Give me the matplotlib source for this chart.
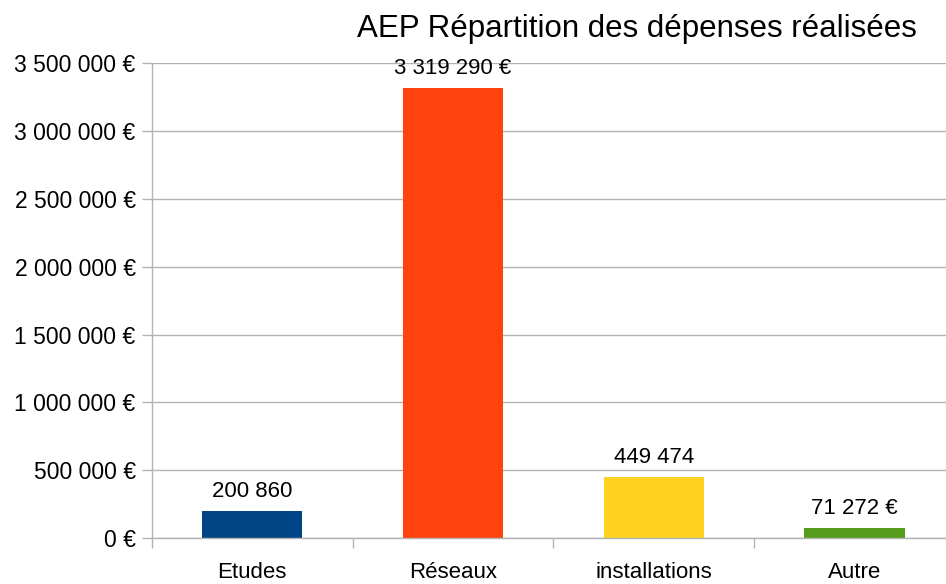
import matplotlib.pyplot as plt
from matplotlib.ticker import FixedLocator

plt.rcParams['font.family'] = ['Liberation Sans', 'DejaVu Sans']

# --- DATA ---
categories = ['Etudes', 'Réseaux', 'installations', 'Autre']
values = [200860, 3319290, 449474, 71272]
value_labels = ['200 860', '3 319 290 €', '449 474', '71 272 €']
colors = ['#004586', '#ff420e', '#ffd320', '#579d1c']
yticks = [0, 500000, 1000000, 1500000, 2000000, 2500000, 3000000, 3500000]
ytick_labels = ['0 €', '500 000 €', '1 000 000 €', '1 500 000 €',
                '2 000 000 €', '2 500 000 €', '3 000 000 €', '3 500 000 €']
title = 'AEP Répartition des dépenses réalisées'

W, H = 946, 584
fig = plt.figure(figsize=(W / 100, H / 100), dpi=100)
left, right, top, bottom = 151.7, 955.0, 63.3, 538.0
ax = fig.add_axes([left / W, (H - bottom) / H, (right - left) / W, (bottom - top) / H])

x = list(range(len(categories)))
ax.bar(x, values, width=0.5, color=colors, zorder=2)
for xi, v, lab in zip(x, values, value_labels):
    ax.annotate(lab, (xi, v), xytext=(0, 10), textcoords='offset points',
                ha='center', va='baseline', fontsize=16, color='#000000')

ax.set_xlim(-0.5, len(categories) - 0.5)
ax.set_ylim(0, 3500000)
ax.set_yticks(yticks)
ax.set_yticklabels(ytick_labels, fontsize=16.5)
ax.set_xticks(x)
ax.set_xticklabels(categories, fontsize=16)
ax.xaxis.set_minor_locator(FixedLocator([i - 0.5 for i in range(len(categories) + 1)]))
ax.tick_params(axis='x', which='major', length=0, pad=17)
ax.tick_params(axis='x', which='minor', length=7.5, color='#b3b3b3', width=1)
ax.tick_params(axis='y', length=7.5, color='#b3b3b3', width=1, pad=4)

ax.grid(axis='y', color='#b3b3b3', linewidth=1, zorder=0)
for s in ['top', 'right']:
    ax.spines[s].set_visible(False)
for s in ['left', 'bottom']:
    ax.spines[s].set_color('#b3b3b3')
    ax.spines[s].set_linewidth(1)

fig.text(637 / W, (H - 37) / H, title, ha='center', va='baseline', fontsize=22.5)

fig.savefig('out.png', dpi=100)
